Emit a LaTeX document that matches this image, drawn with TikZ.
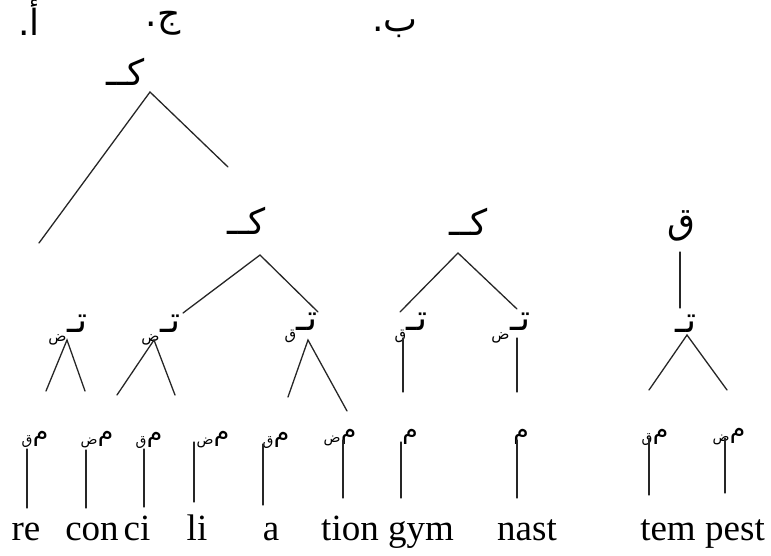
\documentclass[tikz,border=0pt]{standalone}
\usepackage{fontspec}
\setmainfont{Liberation Serif}
\newfontfamily\arabicfont[Script=Arabic]{DejaVu Sans}
\TeXXeTstate=1
% right-to-left Arabic text
\newcommand{\ar}[1]{{\arabicfont\beginR #1\endR}}
% letter with a lowered subscript letter on its left
\newcommand{\tsub}[1]{\hbox{\raisebox{-9pt}{\fontsize{15}{15}\selectfont\ar{#1}}\kern0.5pt\ar{تـ}}}
\newcommand{\msub}[1]{\hbox{\raisebox{-4pt}{\fontsize{14}{14}\selectfont\ar{#1}}\kern0.5pt\ar{م}}}
\begin{document}
\begin{tikzpicture}[x=1pt,y=-1pt,
  head/.style={inner sep=0pt, font=\fontsize{36}{36}\selectfont},
  kaf/.style={inner sep=0pt, font=\fontsize{36}{36}\selectfont},
  tnode/.style={inner sep=0pt, font=\fontsize{36}{36}\selectfont},
  syl/.style={inner sep=0pt, font=\fontsize{25}{25}\selectfont},
  word/.style={inner sep=0pt, anchor=base, font=\fontsize{37}{37}\selectfont},
  edge/.style={line width=1.3pt, draw=black!85, line cap=round}]
\useasboundingbox (0,0) rectangle (771,555);

% headings
\node[head] (la) at (29,18) {\ar{أ.}};
\node[head] (lj) at (163,23) {\ar{ج.}};
\node[head] (lb) at (395,29) {\ar{ب.}};

% word level
\node[kaf] (k1) at (126,72) {\ar{كــ}};
\node[kaf] (k2) at (247,221) {\ar{كــ}};
\node[kaf] (k3) at (469,222) {\ar{كــ}};
\node[kaf] (q) at (681,226) {\ar{ق}};
\coordinate (k1a) at (150,92);
\coordinate (k1l) at (39,243);
\coordinate (k1r) at (228,167);
\coordinate (k2a) at (260,255);
\coordinate (k3a) at (458,253);
\coordinate (qa) at (680,252);

% foot level
\node[tnode] (t1) at (68,330) {\tsub{ض}};
\node[tnode] (t2) at (161,330) {\tsub{ض}};
\node[tnode] (t3) at (301,328) {\tsub{ق}};
\node[tnode] (t4) at (411,328) {\tsub{ق}};
\node[tnode] (t5) at (511,328) {\tsub{ض}};
\node[tnode] (t6) at (686,324) {\ar{تـ}};
\coordinate (t2u) at (183,313);
\coordinate (t3u) at (318,312);
\coordinate (t4u) at (400,312);
\coordinate (t5u) at (517,309);
\coordinate (t6u) at (680,308);
\coordinate (t1a) at (67,340);
\coordinate (t2a) at (154,340);
\coordinate (t3a) at (308,340);
\coordinate (t4a) at (403,338);
\coordinate (t5a) at (517,338);
\coordinate (t6a) at (687,335);
\coordinate (t1l) at (46,391);
\coordinate (t1r) at (85,391);
\coordinate (t2l) at (117,395);
\coordinate (t2r) at (175,395);
\coordinate (t3l) at (288,397);
\coordinate (t3r) at (347,411);
\coordinate (t4b) at (403,392);
\coordinate (t5b) at (517,392);
\coordinate (t6l) at (649,390);
\coordinate (t6r) at (727,390);

% syllable level
\node[syl] (s1) at (35,439) {\msub{ق}};
\node[syl] (s2) at (97,440) {\msub{ض}};
\node[syl] (s3) at (149,440) {\msub{ق}};
\node[syl] (s4) at (213,440) {\msub{ض}};
\node[syl] (s5) at (276,440) {\msub{ق}};
\node[syl] (s6) at (340,438) {\msub{ض}};
\node[syl] (s7) at (410,437) {\ar{م}};
\node[syl] (s8) at (521,437) {\ar{م}};
\node[syl] (s9) at (655,437) {\msub{ق}};
\node[syl] (s10) at (729,437) {\msub{ض}};
\foreach \n/\x/\ya/\yb in {1/27/449/508, 2/86/450/508, 3/144/449/507,
    4/194/442/502, 5/263/444/505, 6/343/440/498, 7/401/442/498,
    8/517/440/498, 9/649/438/495, 10/725/438/493}{
  \coordinate (s\n a) at (\x,\ya);
  \coordinate (s\n b) at (\x,\yb);
}

% syllables
\node[word] (w1) at (26,540) {re};
\node[word] (w2) at (92,540) {con};
\node[word] (w3) at (137,540) {ci};
\node[word] (w4) at (197,540) {li};
\node[word] (w5) at (271,540) {a};
\node[word] (w6) at (350,540) {tion};
\node[word] (w7) at (421,540) {gym};
\node[word] (w8) at (527,540) {nast};
\node[word] (w9) at (668,540) {tem};
\node[word] (w10) at (735,540) {pest};

% branches
\draw[edge] (k1l) -- (k1a) -- (k1r);
\draw[edge] (t2u) -- (k2a) -- (t3u);
\draw[edge] (t4u) -- (k3a) -- (t5u);
\draw[edge] (qa) -- (t6u);
\draw[edge] (t1l) -- (t1a) -- (t1r);
\draw[edge] (t2l) -- (t2a) -- (t2r);
\draw[edge] (t3l) -- (t3a) -- (t3r);
\draw[edge] (t4a) -- (t4b);
\draw[edge] (t5a) -- (t5b);
\draw[edge] (t6l) -- (t6a) -- (t6r);
\foreach \n in {1,...,10} \draw[edge] (s\n a) -- (s\n b);
\end{tikzpicture}
\end{document}
